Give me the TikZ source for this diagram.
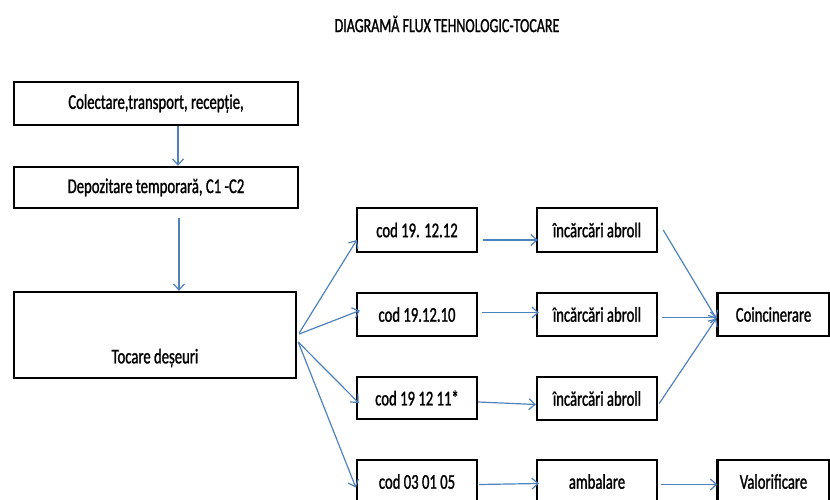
\documentclass[tikz,border=0pt]{standalone}
\usepackage{fontspec}
\setmainfont{Carlito}[FakeStretch=0.7, FakeBold=1.2]
\usetikzlibrary{arrows.meta,calc}
\definecolor{arrowblue}{HTML}{4F81BD}
\tikzset{
  boxfont/.style={font=\fontsize{21}{23}\selectfont},
  box/.style={draw=black, line width=2.4pt, inner sep=0pt, boxfont},
  flow/.style={draw=arrowblue, line width=1.2pt, -{Straight Barb[length=6pt,width=11pt,line width=1.2pt]}}
}
\begin{document}
\begin{tikzpicture}[x=1pt,y=-1pt]
\useasboundingbox (0,0) rectangle (830,500);
\clip (0,0) rectangle (830,500);
\node[font=\fontsize{20}{22}\selectfont] (title) at (447,24) {DIAGRAMĂ FLUX TEHNOLOGIC-TOCARE};
\node[box, minimum width=284pt, minimum height=43pt] (b1) at (156,103.5) {Colectare,transport, recepție,};
\node[box, minimum width=284pt, minimum height=41pt] (b2) at (156,187.5) {Depozitare temporară, C1 -C2};
\node[box, minimum width=282pt, minimum height=86pt, label={[boxfont, yshift=-23pt]center:Tocare deșeuri}] (b3) at (155,335) {};
\node[box, minimum width=120pt, minimum height=44pt] (c1) at (417,230) {cod 19. 12.12};
\node[box, minimum width=120pt, minimum height=43pt] (c2) at (417,314.5) {cod 19.12.10};
\node[box, minimum width=120pt, minimum height=42pt] (c3) at (417,398) {cod 19 12 11*};
\node[box, minimum width=120pt, minimum height=43pt] (c4) at (417,481.5) {cod 03 01 05};
\node[box, minimum width=120pt, minimum height=44pt] (i1) at (597,230) {încărcări abroll};
\node[box, minimum width=120pt, minimum height=43pt] (i2) at (597,314.5) {încărcări abroll};
\node[box, minimum width=120pt, minimum height=43pt] (i3) at (597,398.5) {încărcări abroll};
\node[box, minimum width=120pt, minimum height=43pt] (i4) at (597,481.5) {ambalare};
\node[box, minimum width=112pt, minimum height=43pt] (co) at (773.5,314.5) {Coincinerare};
\node[box, minimum width=112pt, minimum height=43pt] (va) at (773.5,481.5) {Valorificare};
% arrows
\draw[flow] ($(b1.south)+(22,0)$) -- ($(b2.north)+(22,0)$);
\draw[flow] ($(b2.south)+(23,9)$) -- ($(b3.north)+(24,0)$);
\draw[flow] ($(b3.east)+(2,-2)$) -- ($(c1.west)+(1,10)$);
\draw[flow] ($(b3.east)+(2,-1)$) -- ($(c2.west)+(4,-4)$);
\draw[flow] ($(b3.east)+(1,7)$) -- ($(c3.west)+(3,5)$);
\draw[flow] ($(b3.east)+(1,7)$) -- ($(c4.west)+(0,6)$);
\draw[flow] ($(c1.east)+(5,10)$) -- ($(i1.west)+(2,10)$);
\draw[flow] ($(c2.east)+(4,-2)$) -- ($(i2.west)+(3,-2)$);
\draw[flow] ($(c3.east)+(0,4)$) -- ($(i3.west)+(0,6)$);
\draw[flow] ($(c4.east)+(1,3)$) -- ($(i4.west)+(3,2)$);
\draw[flow] ($(i1.east)+(5,0)$) -- ($(co.west)+(0,4)$);
\draw[flow] ($(i2.east)+(4,3)$) -- ($(co.west)+(1,3)$);
\draw[flow] ($(i3.east)+(1,5)$) -- ($(co.west)+(0,4)$);
\draw[flow] ($(i4.east)+(3,3)$) -- ($(va.west)+(1,3)$);
\end{tikzpicture}
\end{document}
